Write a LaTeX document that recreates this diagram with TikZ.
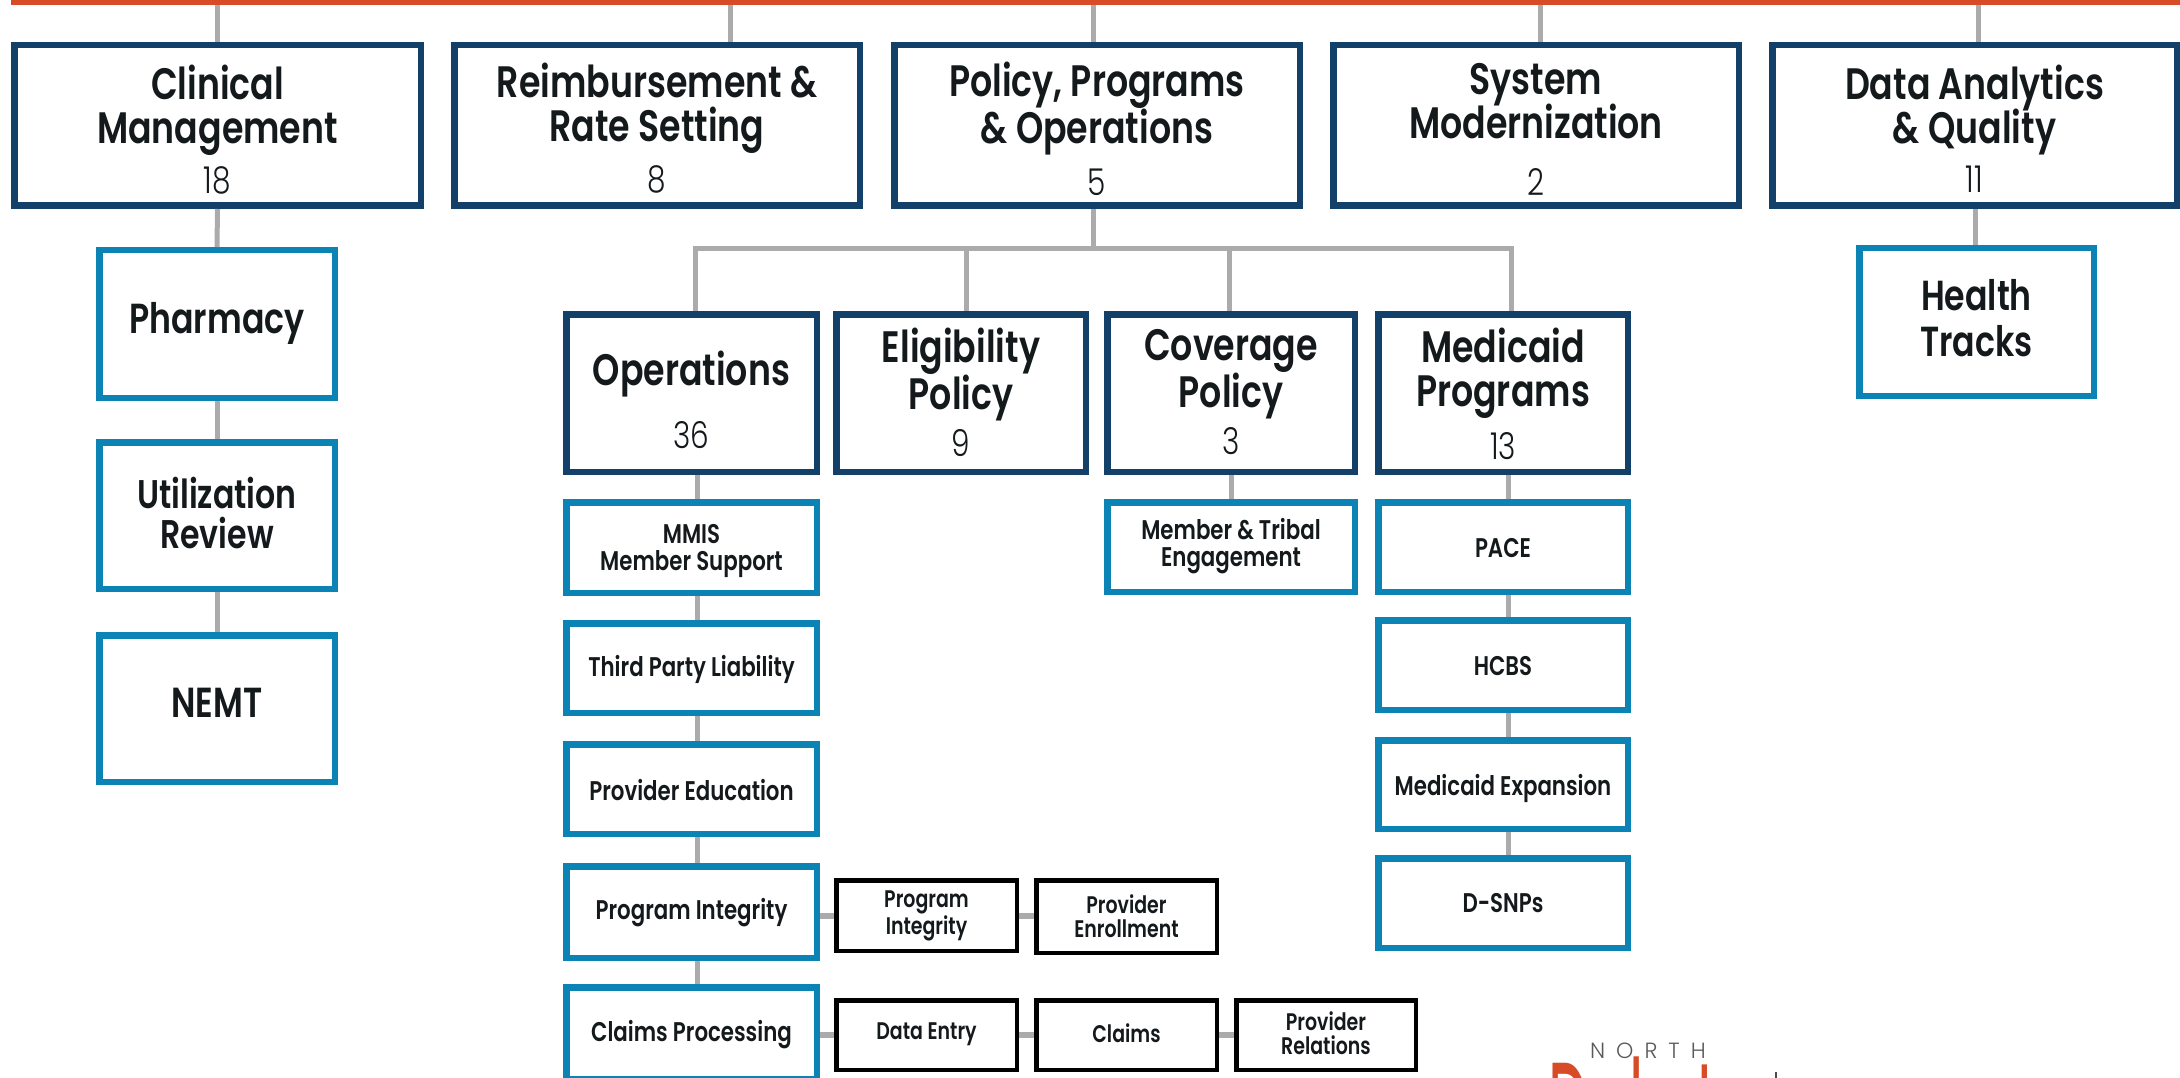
\documentclass[tikz,border=0pt]{standalone}
\usepackage{fontspec}
\setmainfont{Poppins}[FakeStretch=0.79,BoldFont={Poppins SemiBold},BoldFeatures={FakeStretch=0.79}]
\newfontfamily\numfont{Poppins Light}[FakeStretch=0.8]
\newfontfamily\logofont{Poppins Light}[LetterSpace=50]
\newfontfamily\logored{Poppins}[FakeStretch=0.86]
\definecolor{navy}{HTML}{134069}
\definecolor{teal}{HTML}{0B83B4}
\definecolor{redbar}{HTML}{D74B27}
\definecolor{conn}{HTML}{ABABAB}
\definecolor{ink}{HTML}{14191C}
\tikzset{
  lvlone/.style={draw=navy,line width=6.5pt,fill=white,inner sep=0pt},
  lvltwo/.style={draw=teal,line width=6.5pt,fill=white,inner sep=0pt},
  lvlthree/.style={draw=black,line width=4.5pt,fill=white,inner sep=0pt},
  link/.style={draw=conn,line width=5pt},
  stub/.style={draw=conn,line width=6pt},
}
% name x1 y1 x2 y2 style dy size text
\newcommand{\bx}[9]{%
  \pgfmathsetmacro\cxx{(#2+#4)/2}\pgfmathsetmacro\cyy{(#3+#5)/2}%
  \pgfmathsetmacro\ww{#4-#2-6.5}\pgfmathsetmacro\hh{#5-#3-6.5}\pgfmathsetmacro\tw{#4-#2-14}%
  \node[#6,minimum width=\ww pt,minimum height=\hh pt,text=ink] (#1) at (\cxx,\cyy)
    {\raisebox{#7pt}[0pt][0pt]{\parbox{\tw pt}{\centering\fontsize{#8}{#8}\selectfont\bfseries #9}}};}
\newcommand{\nm}[2][7]{\par\vspace{#1pt}{\fontsize{37}{37}\selectfont\mdseries\numfont #2\par}}
\begin{document}
\begin{tikzpicture}[x=1pt,y=-1pt]
\useasboundingbox (0,0) rectangle (2180,1078);
\clip (0,0) rectangle (2180,1078);
\fill[white] (0,0) rectangle (2180,1078);
\node[fill=redbar,minimum width=2169pt,minimum height=5pt,inner sep=0pt,anchor=north west] (bar) at (11,0) {};
\coordinate (t1) at (217.5,5);
\coordinate (t2) at (730,5);
\coordinate (t3) at (1093,5);
\coordinate (t4) at (1540,5);
\coordinate (t5) at (1978,5);
\coordinate (hub) at (1093,249);
\coordinate (d1) at (695,249);
\coordinate (d2) at (966,249);
\coordinate (d3) at (1229,249);
\coordinate (d4) at (1511,249);
\coordinate (colA) at (697.5,0);
\coordinate (colB) at (1508,0);
\coordinate (colH) at (1975,0);
\coordinate (rowA) at (0,916);
\coordinate (rowB) at (0,1035);
% top row
\bx{clin}{11}{42}{424}{209}{lvlone}{-7}{44}{Clinical\\Management\nm[10]{18}}
\bx{reim}{451}{42}{863}{209}{lvlone}{-5}{44}{Reimbursement \&\\Rate Setting\nm[11]{8}}
\bx{poli}{891}{42}{1303}{209}{lvlone}{-5.5}{44}{Policy, Programs\\\& Operations\nm[12]{5}}
\bx{syst}{1330}{42}{1742}{209}{lvlone}{-6.3}{44}{System\\[-3pt]Modernization\nm[19.5]{2}}
\bx{data}{1769}{42}{2180}{209}{lvlone}{-5.7}{44}{Data Analytics\\[-3pt]\& Quality\nm[10]{11}}
% left column
\bx{phar}{96}{247}{338}{401}{lvltwo}{-2}{42}{Pharmacy}
\bx{util}{96}{439}{338}{592}{lvltwo}{0}{40}{Utilization\\Review}
\bx{nemt}{96}{632}{338}{785}{lvltwo}{3}{42}{NEMT}
\bx{hlth}{1856}{245}{2097}{399}{lvltwo}{1.6}{42}{Health\\[4pt]Tracks}
% second row
\bx{oper}{563}{311}{820}{475}{lvlone}{-9.4}{44}{Operations\nm[23]{36}}
\bx{elig}{833}{311}{1089}{475}{lvlone}{-1.4}{44}{Eligibility\\Policy\nm{9}}
\bx{cove}{1104}{311}{1358}{475}{lvlone}{-1.4}{44}{Coverage\\Policy\nm{3}}
\bx{medi}{1375}{311}{1631}{475}{lvlone}{-3}{44}{Medicaid\\Programs\nm[13]{13}}
% operations column
\bx{mmis}{563}{499}{820}{596}{lvltwo}{-6}{27}{MMIS\\Member Support}
\bx{tpl}{563}{620}{820}{716}{lvltwo}{-4}{27}{Third Party Liability}
\bx{pedu}{563}{741}{820}{837}{lvltwo}{-4}{27}{Provider Education}
\bx{pint}{563}{863}{820}{961}{lvltwo}{-3}{27}{Program Integrity}
\bx{clpr}{563}{984}{820}{1082}{lvltwo}{-4}{27}{Claims Processing}
% coverage and medicaid
\bx{trib}{1104}{499}{1358}{595}{lvltwo}{-2}{27}{Member \& Tribal\\Engagement}
\bx{pace}{1375}{499}{1631}{595}{lvltwo}{-4}{27}{PACE}
\bx{hcbs}{1375}{617}{1631}{713}{lvltwo}{-4}{27}{HCBS}
\bx{mexp}{1375}{737}{1631}{832}{lvltwo}{-6}{27}{Medicaid Expansion}
\bx{dsnp}{1375}{855}{1631}{951}{lvltwo}{-3}{27}{D-SNPs}
% third level
\bx{bpin}{833}{877}{1020}{954}{lvlthree}{-3}{24}{Program\\Integrity}
\bx{bpen}{1033}{877}{1220}{956}{lvlthree}{-2}{24}{Provider\\Enrollment}
\bx{bden}{833}{997}{1020}{1073}{lvlthree}{-2}{24}{Data Entry}
\bx{bcla}{1033}{997}{1220}{1073}{lvlthree}{-1}{24}{Claims}
\bx{bpre}{1233}{997}{1419}{1073}{lvlthree}{-1}{24}{Provider\\Relations}
% connectors
\draw[link] (t1) -- (t1 |- clin.north);
\draw[link] (t2) -- (t2 |- reim.north);
\draw[link] (t3) -- (t3 |- poli.north);
\draw[link] (t4) -- (t4 |- syst.north);
\draw[link] (t5) -- (t5 |- data.north);
\draw[link] (clin.south) -- (phar.north);
\draw[link] (phar.south) -- (util.north);
\draw[link] (util.south) -- (nemt.north);
\draw[link] (hub |- poli.south) -- (hub);
\draw[link,line cap=rect] (d1) -- (d4);
\draw[link] (d1) -- (d1 |- oper.north);
\draw[link] (d2) -- (d2 |- elig.north);
\draw[link] (d3) -- (d3 |- cove.north);
\draw[link] (d4) -- (d4 |- medi.north);
\draw[link] (colH |- data.south) -- (colH |- hlth.north);
\draw[link] (colA |- oper.south) -- (colA |- mmis.north);
\draw[link] (colA |- mmis.south) -- (colA |- tpl.north);
\draw[link] (colA |- tpl.south) -- (colA |- pedu.north);
\draw[link] (colA |- pedu.south) -- (colA |- pint.north);
\draw[link] (colA |- pint.south) -- (colA |- clpr.north);
\draw[link] (cove.south) -- (trib.north);
\draw[link] (colB |- medi.south) -- (colB |- pace.north);
\draw[link] (colB |- pace.south) -- (colB |- hcbs.north);
\draw[link] (colB |- hcbs.south) -- (colB |- mexp.north);
\draw[link] (colB |- mexp.south) -- (colB |- dsnp.north);
\draw[stub] (pint.east |- rowA) -- (bpin.west |- rowA);
\draw[stub] (bpin.east |- rowA) -- (bpen.west |- rowA);
\draw[stub] (clpr.east |- rowB) -- (bden.west |- rowB);
\draw[stub] (bden.east |- rowB) -- (bcla.west |- rowB);
\draw[stub] (bcla.east |- rowB) -- (bpre.west |- rowB);
% logo, cut off by the lower edge
\node[anchor=base,inner sep=0pt,text=black!65,font=\logofont\fontsize{22}{22}\selectfont] (north) at (1648,1058) {NORTH};
\node[anchor=base west,inner sep=0pt,text=redbar,font=\logored\fontsize{68}{68}\selectfont,yscale=2.2,transform shape] (dak) at (1548,1167) {Dakota};
\coordinate (tickA) at (1776,1072);
\coordinate (tickB) at (1776,1078);
\draw[black!70,line width=1.6pt] (tickA) -- (tickB);
\end{tikzpicture}
\end{document}
